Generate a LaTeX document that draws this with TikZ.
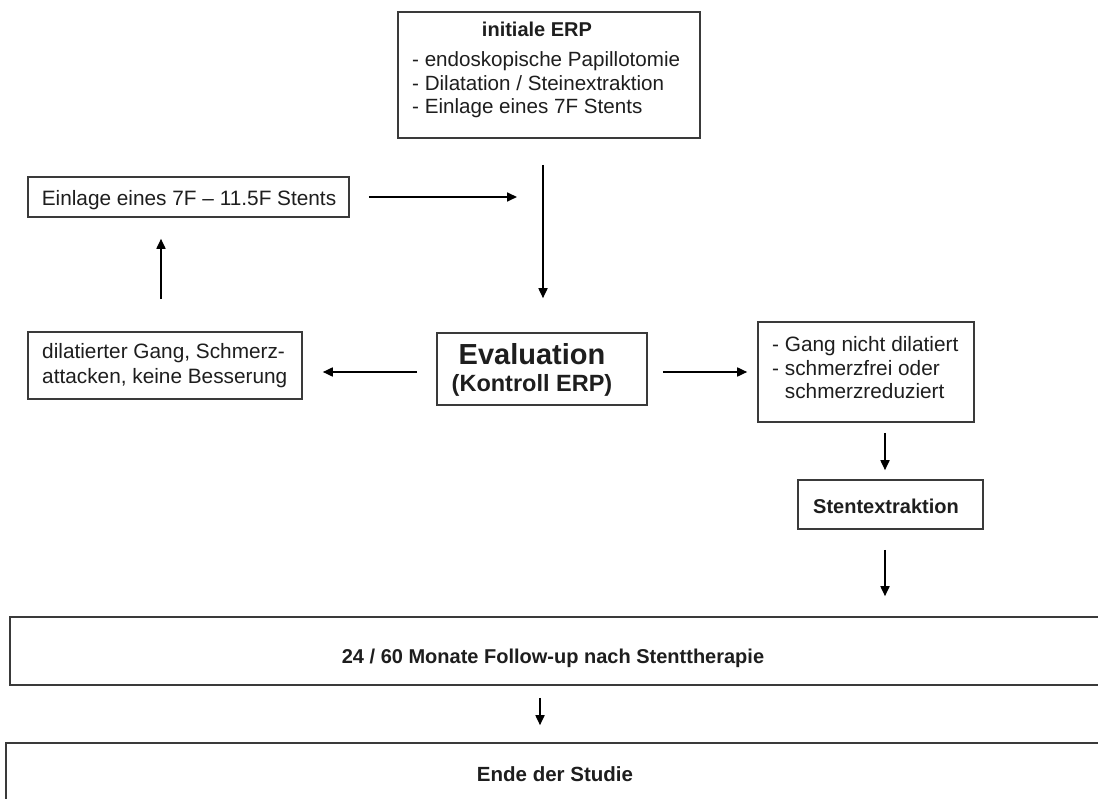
\documentclass[tikz,border=0pt]{standalone}
\usepackage{fontspec}
\setmainfont{Liberation Sans}
\usetikzlibrary{arrows.meta}
\definecolor{boxgray}{HTML}{3A3A3A}
\definecolor{txtc}{HTML}{1E1E1E}
\newcommand{\mylines}[1]{\begin{tabular}[t]{@{}l@{}}#1\end{tabular}}
\begin{document}
\begin{tikzpicture}[x=1pt,y=-1pt,
  box/.style={draw=boxgray, line width=1.6pt, inner sep=0pt, fill=white},
  txt/.style={text=txtc, inner sep=0pt, font=\fontsize{20.8}{24}\selectfont},
  btxt/.style={text=txtc, inner sep=0pt, font=\fontsize{20}{24}\selectfont\bfseries},
  arr/.style={line width=1.7pt, draw=black, -{Triangle[length=10pt,width=9pt]}},
]
\useasboundingbox (0,0) rectangle (1098,799);
\clip (0,0) rectangle (1098,799);
\fill[white] (0,0) rectangle (1098,799);

% boxes
\node[box, minimum width=302pt, minimum height=126pt] (init) at (549,75) {};
\node[box, minimum width=321pt, minimum height=40pt] (einl) at (188.5,197) {};
\node[box, minimum width=274pt, minimum height=67pt] (dil) at (165,365.5) {};
\node[box, minimum width=210pt, minimum height=72pt] (eval) at (542,369) {};
\node[box, minimum width=216pt, minimum height=100pt] (ok) at (866,372) {};
\node[box, minimum width=185pt, minimum height=49pt] (stent) at (890.5,504.5) {};
\node[box, minimum width=1110pt, minimum height=68pt] (fup) at (565,651) {};
\node[box, minimum width=1114pt, minimum height=87pt] (ende) at (563,786.5) {};

% texts
\node[btxt, anchor=base] (initT) at (537,37) {initiale ERP};
\node[txt, anchor=base west, font=\fontsize{20.6}{23.5}\selectfont] (initL) at (412,67)
  {\mylines{- endoskopische Papillotomie\\- Dilatation / Steinextraktion\\- Einlage eines 7F Stents}};
\node[txt, anchor=base] (einlT) at (189,206) {Einlage eines 7F – 11.5F Stents};
\node[txt, anchor=base west, font=\fontsize{20.8}{25}\selectfont] (dilT) at (42,359)
  {\mylines{dilatierter Gang, Schmerz-\\attacken, keine Besserung}};
\node[btxt, anchor=base, font=\fontsize{29}{32}\selectfont\bfseries] (evalT) at (532,365) {Evaluation};
\node[btxt, anchor=base, font=\fontsize{23.5}{27}\selectfont\bfseries] (evalK) at (532,392) {(Kontroll ERP)};
\node[txt, anchor=base west, font=\fontsize{20.8}{23.5}\selectfont] (okT) at (772,352)
  {\mylines{- Gang nicht dilatiert\\- schmerzfrei oder\\\hphantom{- }schmerzreduziert}};
\node[btxt, anchor=base] (stentT) at (886,513) {Stentextraktion};
\node[btxt, anchor=base] (fupT) at (553,663) {24 / 60 Monate Follow-up nach Stenttherapie};
\node[btxt, anchor=base, font=\fontsize{20.5}{24}\selectfont\bfseries] (endeT) at (555,781) {Ende der Studie};

% arrow end points
\coordinate (a1s) at ([xshift=19pt]einl.east);
\coordinate (a1e) at (517,197);
\coordinate (a2s) at (543,165);
\coordinate (a2e) at ([yshift=34pt]eval.north -| 543,0);
\coordinate (a3s) at ([yshift=32pt]dil.north -| 161,0);
\coordinate (a3e) at ([yshift=-21pt]einl.south -| 161,0);
\coordinate (a4s) at ([xshift=-19pt]eval.west |- 0,372);
\coordinate (a4e) at ([xshift=20pt]dil.east |- 0,372);
\coordinate (a5s) at ([xshift=15pt]eval.east |- 0,372);
\coordinate (a5e) at ([xshift=-10pt]ok.west |- 0,372);
\coordinate (a6s) at ([yshift=-10pt]ok.south -| 885,0);
\coordinate (a6e) at ([yshift=9pt]stent.north -| 885,0);
\coordinate (a7s) at ([yshift=-20pt]stent.south -| 885,0);
\coordinate (a7e) at ([yshift=20pt]fup.north -| 885,0);
\coordinate (a8s) at ([yshift=-12pt]fup.south -| 540,0);
\coordinate (a8e) at ([yshift=17pt]ende.north -| 540,0);

\draw[arr] (a1s) -- (a1e);
\draw[arr] (a2s) -- (a2e);
\draw[arr] (a3s) -- (a3e);
\draw[arr] (a4s) -- (a4e);
\draw[arr] (a5s) -- (a5e);
\draw[arr] (a6s) -- (a6e);
\draw[arr] (a7s) -- (a7e);
\draw[arr] (a8s) -- (a8e);
\end{tikzpicture}
\end{document}
